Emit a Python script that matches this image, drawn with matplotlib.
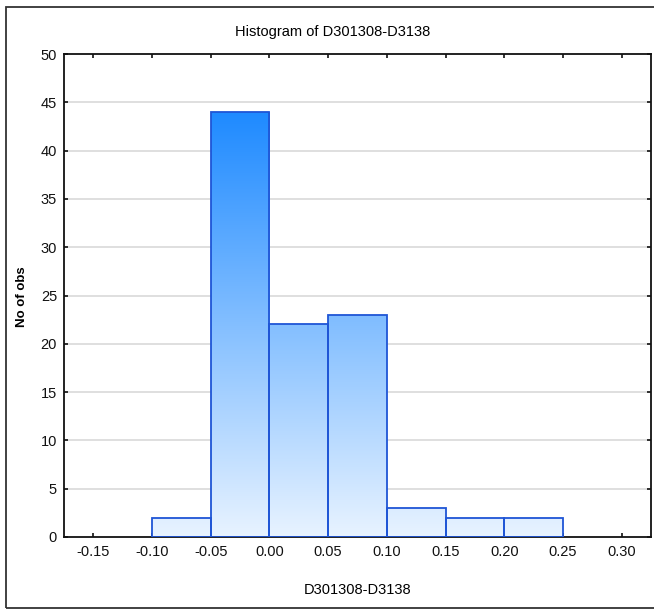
import numpy as np
import matplotlib.pyplot as plt
from matplotlib.colors import LinearSegmentedColormap
from matplotlib.patches import Rectangle

# histogram bins (left edges) and counts
bin_edges = [-0.10, -0.05, 0.00, 0.05, 0.10, 0.15, 0.20, 0.25]
counts = [2, 44, 22, 23, 3, 2, 2]
x_ticks = [-0.15, -0.10, -0.05, 0.00, 0.05, 0.10, 0.15, 0.20, 0.25, 0.30]
y_ticks = [0, 5, 10, 15, 20, 25, 30, 35, 40, 45, 50]

plt.rcParams['font.family'] = ['Liberation Sans', 'DejaVu Sans']

fig = plt.figure(figsize=(6.54, 6.10), dpi=100)
ax = fig.add_axes([64 / 654, 1 - 537 / 610, 587 / 654, 483 / 610])

# outer frame around the whole chart
fig.patches.append(Rectangle((6 / 654, 1 - 608 / 610), 1.2, 601 / 610,
                             transform=fig.transFigure, fill=False,
                             edgecolor='#333333', linewidth=1.3, zorder=0))

cmap = LinearSegmentedColormap.from_list('blues', ['#E8F3FF', '#1E8AFF'])
grad = np.linspace(0, 1, 256).reshape(-1, 1)
top = max(counts)

widths = np.diff(bin_edges)
bars = ax.bar(bin_edges[:-1], counts, width=widths, align='edge',
              facecolor='none', edgecolor='#1F55D6', linewidth=1.3, zorder=3)
for b in bars:
    img = ax.imshow(grad, cmap=cmap, origin='lower', aspect='auto',
                    extent=(-0.175, 0.325, 0, top), zorder=2)
    img.set_clip_path(b)

ax.set_xlim(-0.175, 0.325)
ax.set_ylim(0, 50)
ax.set_xticks(x_ticks)
ax.set_xticklabels([f'{v:.2f}' for v in x_ticks])
ax.set_yticks(y_ticks)

for y in y_ticks[1:-1]:
    ax.axhline(y, color='#DCDCDC', linewidth=1.3, zorder=1)

for s in ax.spines.values():
    s.set_linewidth(1.3)
    s.set_color('#111111')
ax.tick_params(direction='in', length=3, width=1.2, top=True, right=True,
               labelsize=10.5, colors='#111111')
ax.tick_params(axis='x', pad=6)
ax.tick_params(axis='y', pad=5)

fig.text(333 / 654, 1 - 32 / 610, 'Histogram of D301308-D3138',
         ha='center', va='center', fontsize=10.5)
fig.text(358 / 654, 1 - 590 / 610, 'D301308-D3138',
         ha='center', va='center', fontsize=10.5)
fig.text(22 / 654, 1 - 297 / 610, 'No of obs', rotation=90,
         ha='center', va='center', fontsize=9.5, fontweight='bold')

fig.savefig('out.png', dpi=100)
